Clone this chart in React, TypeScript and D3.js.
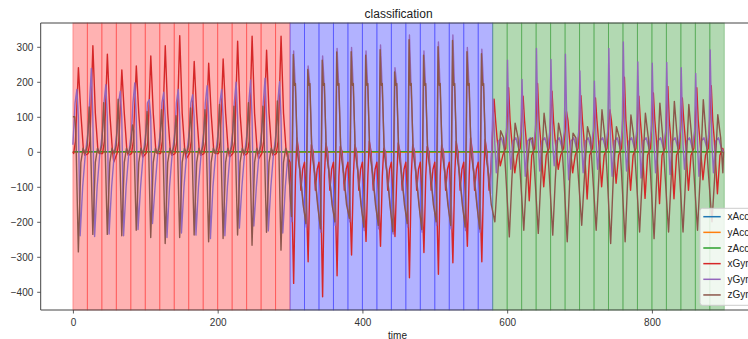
import React, { useEffect, useRef } from 'react';
import * as d3 from 'd3';

// one gait window = 20 samples, three labelled stretches
const WIN = 20;
const regionStart = [0, 300, 580];
const regionEnd = [300, 580, 900];
const lastSample = 899;

const seriesNames = ['xAcc', 'yAcc', 'zAcc', 'xGyr', 'yGyr', 'zGyr'];

// accelerometer channels are tiny next to the gyro ones
const accTimes = [0, 150, 300, 450, 600, 750, 899];
const xAcc = [0.4, -0.6, 0.3, -0.8, 0.5, -0.2, 0.1];
const yAcc = [-0.9, -1.1, -0.7, -1.2, -0.8, -1.0, -0.9];
const zAcc = [0.2, 0.5, -0.3, 0.4, -0.1, 0.3, 0.0];

// gyro values at t = 0
const gyroStart = [0, 20, 100];

// first stretch (0-300), peak / trough of each window
const redXHi = [240, 303, 279, 234, 245, 274, 303, 332, 258, 253, 265, 316, 330, 290, 330];
const redXLo = [-10, -5, -29, -10, -15, -5, -10, -20, -10, -5, -15, -10, -20, -10, -15];
const redYHi = [178, 238, 192, 173, 197, 149, 170, 178, 163, 189, 178, 199, 205, 210, 200];
const redYLo = [-240, -242, -235, -240, -222, -205, -245, -232, -238, -248, -240, -218, -212, -226, -232];
const redZHi = [100, 128, 140, 150, 77, 115, 120, 103, 125, 120, 135, 130, 140, 130, 145];
const redZLo = [-286, -236, -236, -240, -224, -245, -262, -245, -238, -257, -248, -238, -267, -230, -281];

// second stretch (300-580)
const blueXHi = [40, 20, 25, 15, 20, 30, 10, 25, 20, 15, 20, 30, 40, 35];
const blueXLo = [-376, -314, -414, -354, -295, -256, -270, -242, -360, -288, -350, -317, -270, -314];
const blueYHi = [288, 245, 274, 295, 298, 288, 305, 240, 334, 288, 314, 334, 298, 293];
const blueYLo = [-200, -215, -230, -210, -200, -225, -220, -235, -215, -230, -210, -220, -225, -230];
const blueZHi = [278, 235, 262, 285, 286, 276, 292, 228, 320, 276, 300, 318, 286, 280];
const blueZLo = [-185, -205, -220, -200, -190, -215, -210, -228, -205, -222, -200, -210, -215, -220];

// third stretch (580-900)
const greenXHi = [150, 183, 159, 195, 173, 115, 160, 154, 120, 213, 159, 168, 187, 154, 183, 189];
const greenXLo = [-40, -60, -140, -100, -50, -60, -135, -100, -90, -110, -133, -148, -134, -110, -80, -120];
const greenYHi = [150, 262, 207, 295, 264, 279, 231, 202, 295, 314, 257, 253, 255, 240, 224, 291];
const greenYLo = [-60, -50, -70, -55, -40, -80, -60, -50, -70, -55, -75, -60, -65, -50, -70, -60];
const greenZHi = [60, 82, 34, 110, 82, 53, 72, 120, 72, 105, 110, 139, 144, 135, 149, 106];
const greenZLo = [-200, -243, -224, -233, -238, -257, -210, -224, -262, -257, -229, -248, -229, -229, -224, -200];

// turning points inside a window: [sample offset, value or 'hi' / 'lo']
const redShape = {
    x: [[1, -5], [3.5, 30], [7.6, 'hi'], [11, 110], [14.5, 5], [16.5, 'lo']],
    y: [[1, 60], [3, 140], [5.5, 'hi'], [7.5, 100], [10, 'lo'], [13.5, -100], [17, -10]],
    z: [[0, 20], [2.5, 'hi'], [4, 60], [7.5, 'lo'], [11, -30], [14, 10], [17, -5]],
};
const blueShape = {
    x: [[0, -30], [2.5, -130], [5, 'lo'], [7.5, -70], [9.5, 'hi'], [12, 0], [15, -110], [17.5, -50]],
    y: [[2.5, 'lo'], [5, 'hi'], [7, 200], [10, 20], [13, -40], [17, -120]],
    z: [[2, 'lo'], [4.5, 'hi'], [6, 190], [7.5, 195], [10, 0], [14, -60], [18, -150]],
};
const greenShape = {
    x: [[2, 'hi'], [4, 90], [6, 40], [10.5, 'lo'], [14, -10], [18, 10]],
    y: [[0.5, 'hi'], [3, 20], [5, 'lo'], [8, 30], [12, 40], [16, 10], [19, 60]],
    z: [[3, 'lo'], [6.5, -80], [11, 'hi'], [15, 40], [18, -60]],
};

const xTicks = [0, 200, 400, 600, 800];
const yTicks = [-400, -300, -200, -100, 0, 100, 200, 300];

const lineColors = ['#1f77b4', '#ff7f0e', '#2ca02c', '#d62728', '#9467bd', '#8c564b'];
const spanColors = ['#ff0000', '#0000ff', '#008000'];
const FONT = '"Liberation Sans", Arial, sans-serif';

function buildGyro(axis, start) {
    const parts = [
        { shape: redShape[axis], hi: { x: redXHi, y: redYHi, z: redZHi }[axis], lo: { x: redXLo, y: redYLo, z: redZLo }[axis] },
        { shape: blueShape[axis], hi: { x: blueXHi, y: blueYHi, z: blueZHi }[axis], lo: { x: blueXLo, y: blueYLo, z: blueZLo }[axis] },
        { shape: greenShape[axis], hi: { x: greenXHi, y: greenYHi, z: greenZHi }[axis], lo: { x: greenXLo, y: greenYLo, z: greenZLo }[axis] },
    ];
    const pts = [[0, start]];
    parts.forEach((p, r) => {
        p.hi.forEach((_, k) => {
            p.shape.forEach(([off, v]) => {
                const t = regionStart[r] + k * WIN + off;
                if (t <= 0 || t >= lastSample) return;
                pts.push([t, v === 'hi' ? p.hi[k] : v === 'lo' ? p.lo[k] : v]);
            });
        });
    });
    pts.push([lastSample, 0]);
    return pts;
}

export default function App() {
    const ref = useRef(null);
    const width = 748;
    const height = 339;
    const plot = { left: 40.7, right: 756.5, top: 23, bottom: 310 };

    useEffect(() => {
        document.body.style.margin = '0';
        const svg = d3.select(ref.current);
        svg.selectAll('*').remove();

        const x = d3.scaleLinear().domain([-44.5, 944.5]).range([plot.left, plot.right]);
        const y = d3.scaleLinear().domain([-452, 368]).range([plot.bottom, plot.top]);

        svg.append('rect').attr('width', width).attr('height', height).attr('fill', '#fff');

        // labelled windows
        const windows = [];
        regionStart.forEach((s, r) => {
            for (let t = s; t < regionEnd[r]; t += WIN) windows.push({ t, r });
        });
        svg.append('g').selectAll('rect').data(windows).join('rect')
            .attr('x', d => x(d.t))
            .attr('width', d => x(d.t + WIN) - x(d.t))
            .attr('y', plot.top)
            .attr('height', plot.bottom - plot.top)
            .attr('fill', d => spanColors[d.r])
            .attr('fill-opacity', 0.3)
            .attr('stroke', d => spanColors[d.r])
            .attr('stroke-opacity', 0.3)
            .attr('stroke-width', 1);

        const line = d3.line().x(d => x(d[0])).y(d => y(d[1]));
        const acc = [xAcc, yAcc, zAcc].map(vals => vals.map((v, i) => [accTimes[i], v]));
        const gyro = [buildGyro('x', gyroStart[0]), buildGyro('y', gyroStart[1]), buildGyro('z', gyroStart[2])];
        const all = acc.concat(gyro);

        svg.append('g')
            .attr('fill', 'none')
            .attr('stroke-width', 1.4)
            .attr('stroke-linejoin', 'round')
            .selectAll('path').data(all).join('path')
            .attr('stroke', (d, i) => lineColors[i])
            .attr('d', line);

        // axes
        const fmt = d => (d < 0 ? '\u2212' + Math.abs(d) : String(d));
        const gy = svg.append('g')
            .attr('transform', `translate(${plot.left},0)`)
            .call(d3.axisLeft(y).tickValues(yTicks).tickSize(3.5).tickPadding(3.9).tickFormat(fmt));
        const gx = svg.append('g')
            .attr('transform', `translate(0,${plot.bottom})`)
            .call(d3.axisBottom(x).tickValues(xTicks).tickSize(3.5).tickPadding(5.2).tickFormat(fmt));
        [gx, gy].forEach(g => {
            g.select('.domain').remove();
            g.selectAll('line').attr('stroke', '#333').attr('stroke-width', 0.8);
            g.selectAll('text').attr('fill', '#333').attr('font-size', 10).attr('font-family', FONT);
        });

        const spines = svg.append('g').attr('stroke', '#444').attr('stroke-width', 1);
        spines.append('line').attr('x1', plot.left).attr('x2', plot.left).attr('y1', plot.top).attr('y2', plot.bottom);
        spines.append('line').attr('x1', plot.left).attr('x2', plot.right).attr('y1', plot.top).attr('y2', plot.top);
        spines.append('line').attr('x1', plot.left).attr('x2', plot.right).attr('y1', plot.bottom).attr('y2', plot.bottom);

        svg.append('text')
            .attr('x', (plot.left + plot.right) / 2)
            .attr('y', 18)
            .attr('text-anchor', 'middle')
            .attr('font-family', FONT)
            .attr('font-size', 12)
            .attr('fill', '#222')
            .text('classification');

        svg.append('text')
            .attr('x', 397.5)
            .attr('y', 338.5)
            .attr('text-anchor', 'middle')
            .attr('font-family', FONT)
            .attr('font-size', 10)
            .attr('fill', '#222')
            .text('time');

        // legend (runs off the right edge like the original)
        const lg = svg.append('g').attr('transform', 'translate(700,208.3)');
        lg.append('rect')
            .attr('width', 70).attr('height', 97).attr('rx', 2.5)
            .attr('fill', '#fff').attr('fill-opacity', 0.8)
            .attr('stroke', '#ccc').attr('stroke-width', 1);
        const item = lg.selectAll('g.item').data(seriesNames).join('g')
            .attr('class', 'item')
            .attr('transform', (d, i) => `translate(0,${8.4 + i * 15.65})`);
        item.append('line')
            .attr('x1', 3.3).attr('x2', 20.7)
            .attr('stroke', (d, i) => lineColors[i])
            .attr('stroke-width', 1.5);
        item.append('text')
            .attr('x', 27.5).attr('dy', '0.35em')
            .attr('font-family', FONT).attr('font-size', 10)
            .attr('fill', '#222')
            .text(d => d);
    }, []);

    return (
        <div>
            <svg ref={ref} width={width} height={height} style={{ display: 'block' }}></svg>
        </div>
    );
}
